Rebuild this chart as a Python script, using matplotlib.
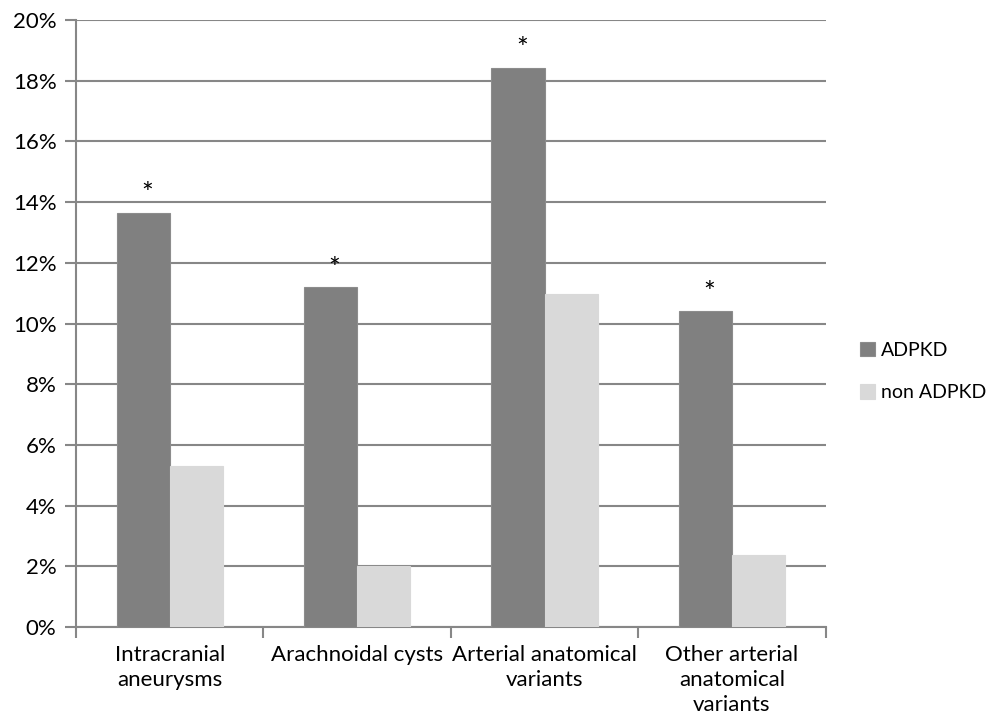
import matplotlib
matplotlib.use("Agg")
import matplotlib.pyplot as plt
import numpy as np
from matplotlib.ticker import FuncFormatter, FixedLocator

categories = ["Intracranial\naneurysms", "Arachnoidal cysts",
              "Arterial anatomical\nvariants", "Other arterial\nanatomical\nvariants"]
adpkd = [13.64, 11.2, 18.42, 10.41]
non_adpkd = [5.32, 2.02, 10.98, 2.36]
significant = ["*", "*", "*", "*"]
series_names = ["ADPKD", "non ADPKD"]

plt.rcParams['font.family'] = ['Lato', 'DejaVu Sans']

fig = plt.figure(figsize=(9.93, 7.23), dpi=100)
ax = fig.add_axes([0.0765, 0.1328, 0.755, 0.8395])

x = np.arange(len(categories))
w = 0.283
grid_c = "#878787"
b1 = ax.bar(x - w/2, adpkd, w, color="#808080", edgecolor="#8c8c8c", linewidth=0.8, label=series_names[0], zorder=3)
b2 = ax.bar(x + w/2, non_adpkd, w, color="#d9d9d9", edgecolor="#d9d9d9", linewidth=0.8, label=series_names[1], zorder=3)

for xi, v, s in zip(x, adpkd, significant):
    ax.text(xi - w/2 + 0.02, v + 0.15, s, ha="center", va="bottom", fontsize=20, color="black")

ax.set_xlim(-0.5, len(categories) - 0.5)
ax.set_ylim(0, 20)
ax.set_yticks(np.arange(0, 21, 2))
ax.yaxis.set_major_formatter(FuncFormatter(lambda v, p: f"{int(v)}%"))
ax.yaxis.grid(True, color=grid_c, linewidth=1.5, zorder=0)
ax.set_axisbelow(True)

ax.set_xticks(x)
ax.set_xticklabels(categories, fontsize=16, linespacing=1.3)
ax.tick_params(axis="x", length=0, pad=13)
ax.xaxis.set_minor_locator(FixedLocator(np.arange(-0.5, len(categories), 1.0)))
ax.tick_params(axis="x", which="minor", length=8, width=1.5, color=grid_c)
ax.tick_params(axis="y", length=8, width=1.5, color=grid_c, labelsize=16, pad=6)

for sp in ["top", "right"]:
    ax.spines[sp].set_visible(False)
for sp in ["left", "bottom"]:
    ax.spines[sp].set_color(grid_c)
    ax.spines[sp].set_linewidth(1.5)

leg = fig.legend(handles=[b1, b2], labels=series_names, loc="center left",
                 bbox_to_anchor=(0.866, 0.486), frameon=False, fontsize=14,
                 borderpad=0, borderaxespad=0,
                 handlelength=0.75, handleheight=0.75, handletextpad=0.35, labelspacing=1.3)

fig.savefig("out.png", dpi=100)
